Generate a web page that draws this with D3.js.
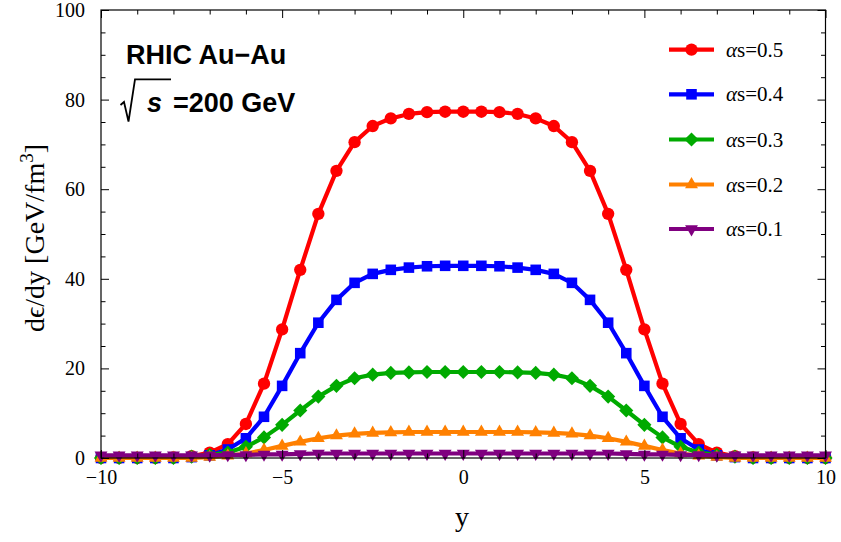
<!DOCTYPE html>
<html>
<head>
<meta charset="utf-8">
<script src="https://cdn.jsdelivr.net/npm/d3@7"></script>
<style>
  body { margin: 0; background: #fff; }
  svg { display: block; }
</style>
</head>
<body>
<div id="chart"></div>
<script>

var w = 841;
var h = 542;

// rapidity grid
var ys = [-10, -9.5, -9, -8.5, -8, -7.5, -7, -6.5, -6, -5.5, -5, -4.5, -4, -3.5, -3, -2.5, -2, -1.5, -1, -0.5,
          0, 0.5, 1, 1.5, 2, 2.5, 3, 3.5, 4, 4.5, 5, 5.5, 6, 6.5, 7, 7.5, 8, 8.5, 9, 9.5, 10];

var alpha05 = [0, 0, 0, 0, 0.1, 0.4, 1.2, 3.1, 7.6, 16.6, 28.7, 42.0, 54.5, 64.1, 70.5, 74.1, 75.8, 76.8, 77.2, 77.3,
               77.3, 77.3, 77.2, 76.8, 75.8, 74.1, 70.5, 64.1, 54.5, 42.0, 28.7, 16.6, 7.6, 3.1, 1.2, 0.4, 0.1, 0, 0, 0, 0];
var alpha04 = [0, 0, 0, 0, 0, 0.2, 0.6, 1.9, 4.4, 9.2, 16.1, 23.4, 30.2, 35.3, 39.1, 41.1, 42.0, 42.5, 42.8, 42.9,
               42.9, 42.9, 42.8, 42.5, 42.0, 41.1, 39.1, 35.3, 30.2, 23.4, 16.1, 9.2, 4.4, 1.9, 0.6, 0.2, 0, 0, 0, 0, 0];
var alpha03 = [0, 0, 0, 0, 0, 0.3, 0.7, 1.2, 2.5, 4.6, 7.4, 10.6, 13.7, 16.1, 17.8, 18.6, 19.0, 19.1, 19.2, 19.2,
               19.2, 19.2, 19.2, 19.1, 19.0, 18.6, 17.8, 16.1, 13.7, 10.6, 7.4, 4.6, 2.5, 1.2, 0.7, 0.3, 0, 0, 0, 0, 0];
var alpha02 = [0, 0, 0, 0, 0, 0, 0.2, 0.5, 1.0, 1.8, 2.7, 3.6, 4.4, 5.0, 5.4, 5.6, 5.7, 5.8, 5.8, 5.8,
               5.8, 5.8, 5.8, 5.8, 5.7, 5.6, 5.4, 5.0, 4.4, 3.6, 2.7, 1.8, 1.0, 0.5, 0.2, 0, 0, 0, 0, 0, 0];
var alpha01 = [0.6, 0.6, 0.6, 0.6, 0.6, 0.6, 0.6, 0.7, 0.7, 0.8, 0.8, 0.9, 1.0, 1.0, 1.0, 1.0, 1.0, 1.0, 1.0, 1.0,
               1.0, 1.0, 1.0, 1.0, 1.0, 1.0, 1.0, 1.0, 1.0, 0.9, 0.8, 0.8, 0.7, 0.7, 0.6, 0.6, 0.6, 0.6, 0.6, 0.6, 0.6];

var seriesNames = ["αs=0.5", "αs=0.4", "αs=0.3", "αs=0.2", "αs=0.1"];
var seriesValues = [alpha05, alpha04, alpha03, alpha02, alpha01];
var seriesColors = ["#ff0000", "#0000ff", "#00aa00", "#ff8000", "#800080"];
var seriesMarkers = ["circle", "square", "diamond", "triangle", "down"];

var xMajor = [-10, -5, 0, 5, 10];
var xMinor = [-9, -8, -7, -6, -4, -3, -2, -1, 1, 2, 3, 4, 6, 7, 8, 9];
var yMajor = [0, 20, 40, 60, 80, 100];
var yMinor = [5, 10, 15, 25, 30, 35, 45, 50, 55, 65, 70, 75, 85, 90, 95];

var serif = "'Liberation Serif', 'Times New Roman', serif";
var sans = "'Liberation Sans', Arial, sans-serif";

var svg = d3.select("#chart")
	.append("svg")
	.attr("width", w)
	.attr("height", h);

var x = d3.scaleLinear().domain([-10, 10]).range([101, 825.5]);
var y = d3.scaleLinear().domain([0, 100]).range([458, 10]);

function markerPath(kind){
	if (kind == "circle") return d3.symbol(d3.symbolCircle, 120)();
	if (kind == "square") return d3.symbol(d3.symbolSquare, 112)();
	if (kind == "diamond") return d3.symbol(d3.symbolSquare, 100)();
	return d3.symbol(d3.symbolTriangle, 72)();
}
function markerRotate(kind){
	if (kind == "diamond") return 45;
	if (kind == "down") return 180;
	return 0;
}

/********************************************************************
* Curves
*********************************************************************/
var line = d3.line()
	.x(function(d, i){ return x(ys[i]); })
	.y(function(d){ return y(d); });

seriesValues.forEach(function(vals, k){
	var g = svg.append("g");
	g.append("path")
		.datum(vals)
		.attr("d", line)
		.attr("fill", "none")
		.attr("stroke", seriesColors[k])
		.attr("stroke-width", 4.2)
		.attr("stroke-linejoin", "round");
	g.selectAll("path.mk")
		.data(vals)
		.enter()
		.append("path")
		.attr("class", "mk")
		.attr("d", markerPath(seriesMarkers[k]))
		.attr("transform", function(d, i){
			return "translate(" + x(ys[i]) + "," + y(d) + ") rotate(" + markerRotate(seriesMarkers[k]) + ")";
		})
		.attr("fill", seriesColors[k]);
});

/********************************************************************
* Frame and ticks
*********************************************************************/
function styleAxis(g){
	g.attr("font-family", serif).attr("font-size", 20);
	g.select(".domain").remove();
	g.selectAll(".tick line").attr("stroke", "#000").attr("stroke-width", 1);
	g.selectAll(".tick text").attr("fill", "#000");
}

svg.append("g").attr("transform", "translate(0,458)")
	.call(d3.axisBottom(x).tickValues(xMinor).tickSize(-4.5).tickFormat(""))
	.call(styleAxis);
svg.append("g").attr("transform", "translate(0,458)")
	.call(d3.axisBottom(x).tickValues(xMajor).tickSize(-8).tickPadding(12)
		.tickFormat(function(d){ return d < 0 ? "\u2212" + Math.abs(d) : d; }))
	.call(styleAxis);
svg.append("g").attr("transform", "translate(0,10)")
	.call(d3.axisTop(x).tickValues(xMinor).tickSize(-4.5).tickFormat(""))
	.call(styleAxis);
svg.append("g").attr("transform", "translate(0,10)")
	.call(d3.axisTop(x).tickValues(xMajor).tickSize(-8).tickFormat(""))
	.call(styleAxis);

svg.append("g").attr("transform", "translate(101,0)")
	.call(d3.axisLeft(y).tickValues(yMinor).tickSize(-4.5).tickFormat(""))
	.call(styleAxis);
svg.append("g").attr("transform", "translate(101,0)")
	.call(d3.axisLeft(y).tickValues(yMajor).tickSize(-8).tickPadding(16))
	.call(styleAxis);
svg.append("g").attr("transform", "translate(825.5,0)")
	.call(d3.axisRight(y).tickValues(yMinor).tickSize(-4.5).tickFormat(""))
	.call(styleAxis);
svg.append("g").attr("transform", "translate(825.5,0)")
	.call(d3.axisRight(y).tickValues(yMajor).tickSize(-8).tickFormat(""))
	.call(styleAxis);

svg.append("rect")
	.attr("x", 101).attr("y", 10)
	.attr("width", 724.5).attr("height", 448)
	.attr("fill", "none")
	.attr("stroke", "#000")
	.attr("stroke-width", 1.2);

/********************************************************************
* Titles
*********************************************************************/
svg.append("text")
	.attr("x", 462).attr("y", 526)
	.attr("text-anchor", "middle")
	.attr("font-family", serif)
	.attr("font-size", 28)
	.text("y");

var yt = svg.append("text")
	.attr("transform", "translate(44,238) rotate(-90)")
	.attr("text-anchor", "middle")
	.attr("font-family", serif)
	.attr("font-size", 28);
yt.append("tspan").text("d\u03f5/dy [GeV/fm");
yt.append("tspan").attr("font-size", 19).attr("dy", -11).text("3");
yt.append("tspan").attr("dy", 11).text("]");

svg.append("text")
	.attr("x", 126).attr("y", 63.5)
	.attr("font-family", sans)
	.attr("font-weight", "bold")
	.attr("font-size", 27)
	.text("RHIC Au\u2212Au");

svg.append("path")
	.attr("d", "M120.5,105 L124,102 L128.5,121.5 L135,79.3 L171,79.3")
	.attr("fill", "none")
	.attr("stroke", "#000")
	.attr("stroke-width", 1.8);

svg.append("text")
	.attr("x", 147).attr("y", 111.5)
	.attr("font-family", sans)
	.attr("font-weight", "bold")
	.attr("font-style", "italic")
	.attr("font-size", 27)
	.text("s");

svg.append("text")
	.attr("x", 173).attr("y", 111.5)
	.attr("font-family", sans)
	.attr("font-weight", "bold")
	.attr("font-size", 27)
	.text("=200 GeV");

/********************************************************************
* Legend
*********************************************************************/
var legendY = [49.6, 94.3, 139.5, 184.5, 229];

seriesNames.forEach(function(name, k){
	var ly = legendY[k];
	svg.append("line")
		.attr("x1", 669).attr("x2", 714)
		.attr("y1", ly).attr("y2", ly)
		.attr("stroke", seriesColors[k])
		.attr("stroke-width", 4.2);
	svg.append("path")
		.attr("d", markerPath(seriesMarkers[k]))
		.attr("transform", "translate(691.5," + ly + ") rotate(" + markerRotate(seriesMarkers[k]) + ")")
		.attr("fill", seriesColors[k]);
	var t = svg.append("text")
		.attr("x", 726).attr("y", ly + 7)
		.attr("font-family", serif)
		.attr("font-size", 21);
	t.append("tspan").attr("font-style", "italic").text(name.slice(0, 1));
	t.append("tspan").text(name.slice(1));
});

</script>
</body>
</html>
